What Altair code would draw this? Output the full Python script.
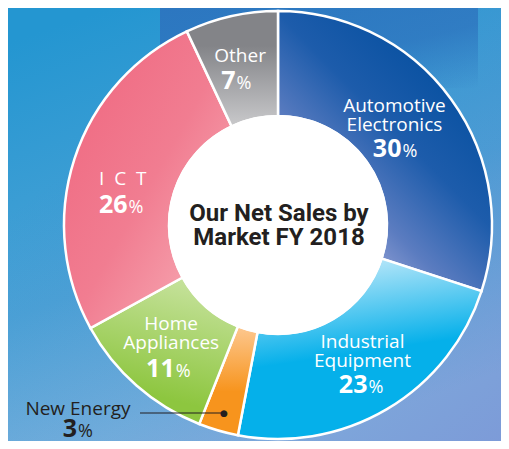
import math
import altair as alt
import pandas as pd

# ---- data -------------------------------------------------------------
categories = ["Automotive Electronics", "Industrial Equipment", "New Energy",
              "Home Appliances", "ICT", "Other"]
label_text = ["Automotive\nElectronics", "Industrial\nEquipment", "New Energy",
              "Home\nAppliances", "I\u00a0\u00a0C\u00a0\u00a0T", "Other"]
shares = [30, 23, 3, 11, 26, 7]
center_title = ["Our Net Sales by\nMarket FY 2018"]

df = pd.DataFrame({"idx": list(range(len(categories))), "category": categories,
                   "label": label_text, "share": shares})

# ---- styling ----------------------------------------------------------
W, H = 493, 433
CX, CY = 270, 217
R_OUT, R_IN, R_LAB = 214, 109, 160
FONT = "Open Sans"
DARK = "#231f20"


def grad(x1, y1, x2, y2, stops):
    return {"gradient": "linear", "x1": x1, "y1": y1, "x2": x2, "y2": y2,
            "stops": [{"offset": o, "color": c} for o, c in stops]}


SLICE_FILL = {
    "Automotive Electronics": grad(0.35, 0.95, 0.85, 0.3, [(0, "#a3acdc"), (0.3, "#5b7cc0"), (0.65, "#1d5cab"), (1, "#0a52a2")]),
    "Industrial Equipment": grad(0.5, 0.0, 0.6, 0.5, [(0, "#b9e7f9"), (1, "#05b0ea")]),
    "New Energy": grad(0.5, 0.0, 0.5, 0.6, [(0, "#fdc890"), (1, "#f7941d")]),
    "Home Appliances": grad(0.6, 0.0, 0.4, 0.8, [(0, "#c6e29c"), (1, "#8dc63f")]),
    "ICT": grad(0.2, 0.2, 0.9, 0.9, [(0, "#f06e85"), (0.45, "#f17d91"), (1, "#f7aab4")]),
    "Other": grad(0.5, 0.3, 0.5, 1.0, [(0, "#838488"), (1, "#c9c9cb")]),
}
BG_FILL = grad(0.2, 0.0, 0.6, 1.0, [(0, "#2496d1"), (0.55, "#4aa2d6"), (1, "#86bde2")])
TINT = grad(0.3, 0.2, 1.0, 1.0, [(0, "rgba(90,90,190,0)"), (0.5, "rgba(90,90,190,0.1)"), (1, "rgba(110,100,200,0.38)")])
TOP_BAND = grad(0.0, 0.0, 1.0, 1.0, [(0, "rgba(45,115,190,0.9)"), (0.6, "rgba(45,115,190,0.75)"), (1, "rgba(45,115,190,0)")])

# per-label offsets: name dx, name dy, pct dy, junction dx, text colour
LABEL_POS = {
    "Automotive Electronics": (-13, -19, 26.5, -6, "white"),
    "Industrial Equipment": (3, -15, 30, 8, "white"),
    "New Energy": (-155.4, 36, 58.5, -156.4, DARK),
    "Home Appliances": (-1, -15, 32, 2.5, "white"),
    "ICT": (-3, 9.5, 37, 1.7, "white"),
    "Other": (-3, -7, 20, -7.6, "white"),
}

theta_scale = alt.Scale(domain=[0, 1], range=[0, 2 * math.pi])
cx = alt.value(CX)
cy = alt.value(CY)

base = (
    alt.Chart(df)
    .transform_joinaggregate(total="sum(share)")
    .transform_window(cum="sum(share)", sort=[alt.SortField("idx", order="ascending")], frame=[None, 0])
    .transform_calculate(
        start="(datum.cum - datum.share) / datum.total",
        end="datum.cum / datum.total",
        mid="(datum.cum - datum.share / 2) / datum.total",
    )
)

single = alt.Chart(pd.DataFrame({"t": center_title}))

layers = []
# background
layers.append(single.mark_rect(fill=BG_FILL).encode(
    x=alt.value(0), x2=alt.value("width"), y=alt.value(0), y2=alt.value("height")))
layers.append(single.mark_rect(fill=TINT).encode(
    x=alt.value(0), x2=alt.value("width"), y=alt.value(0), y2=alt.value("height")))
layers.append(single.mark_rect(fill=TOP_BAND).encode(
    x=alt.value(152), x2=alt.value(470), y=alt.value(0), y2=alt.value(80)))

# slices
for cat in categories:
    layers.append(
        base.transform_filter(alt.datum.category == cat)
        .mark_arc(outerRadius=R_OUT, innerRadius=R_IN, fill=SLICE_FILL[cat],
                  stroke="white", strokeWidth=2.5)
        .encode(theta=alt.Theta("start:Q", scale=theta_scale, stack=False),
                theta2=alt.Theta2("end:Q"), x=cx, y=cy)
    )

# white centre
layers.append(single.mark_arc(outerRadius=R_IN + 1, innerRadius=0, theta=0,
                              theta2=2 * math.pi, fill="white").encode(x=cx, y=cy))

# centre title
layers.append(single.mark_text(font="Roboto", fontWeight="bold", fontSize=24,
                               lineBreak="\n", lineHeight=24, align="center",
                               baseline="alphabetic", dy=-4, dx=1, color=DARK)
              .encode(text="t:N", x=cx, y=cy))

# labels
for cat in categories:
    ndx, ndy, pdy, jdx, col = LABEL_POS[cat]
    sub = base.transform_filter(alt.datum.category == cat)
    enc = dict(theta=alt.Theta("mid:Q", scale=theta_scale, stack=False),
               radius=alt.value(R_LAB), x=cx, y=cy)
    layers.append(sub.mark_text(font=FONT, fontSize=19, lineBreak="\n", lineHeight=19,
                                align="center", baseline="alphabetic", dx=ndx, dy=ndy,
                                color=col).encode(text="label:N", **enc))
    layers.append(sub.mark_text(font=FONT, fontWeight="bold", fontSize=25, align="right",
                                baseline="alphabetic", dx=jdx, dy=pdy, color=col)
                  .encode(text=alt.Text("share:Q", format="d"), **enc))
    layers.append(sub.mark_text(font=FONT, fontSize=18, align="left",
                                baseline="alphabetic", dx=jdx + 1, dy=pdy, color=col)
                  .encode(text=alt.value("%"), **enc))

# New Energy leader line and dot
layers.append(single.mark_rule(color=DARK, strokeWidth=1.2).encode(
    x=alt.value(132), x2=alt.value(214), y=alt.value(405)))
ne = base.transform_filter(alt.datum.category == "New Energy")
layers.append(ne.mark_text(font="DejaVu Sans", fontSize=9, align="center", baseline="middle",
                           dx=0.7, dy=0, color=DARK)
              .encode(text=alt.value("\u25cf"),
                      theta=alt.Theta("mid:Q", scale=theta_scale, stack=False),
                      radius=alt.value(196), x=cx, y=cy))

chart = (
    alt.layer(*layers)
    .properties(width=W, height=H, padding=0,
                autosize=alt.AutoSizeParams(type="none"),
                background="#3b9fd5")
    .configure_view(strokeWidth=0)
)

chart.save("out.html", embed_options={"renderer": "svg", "actions": False})
